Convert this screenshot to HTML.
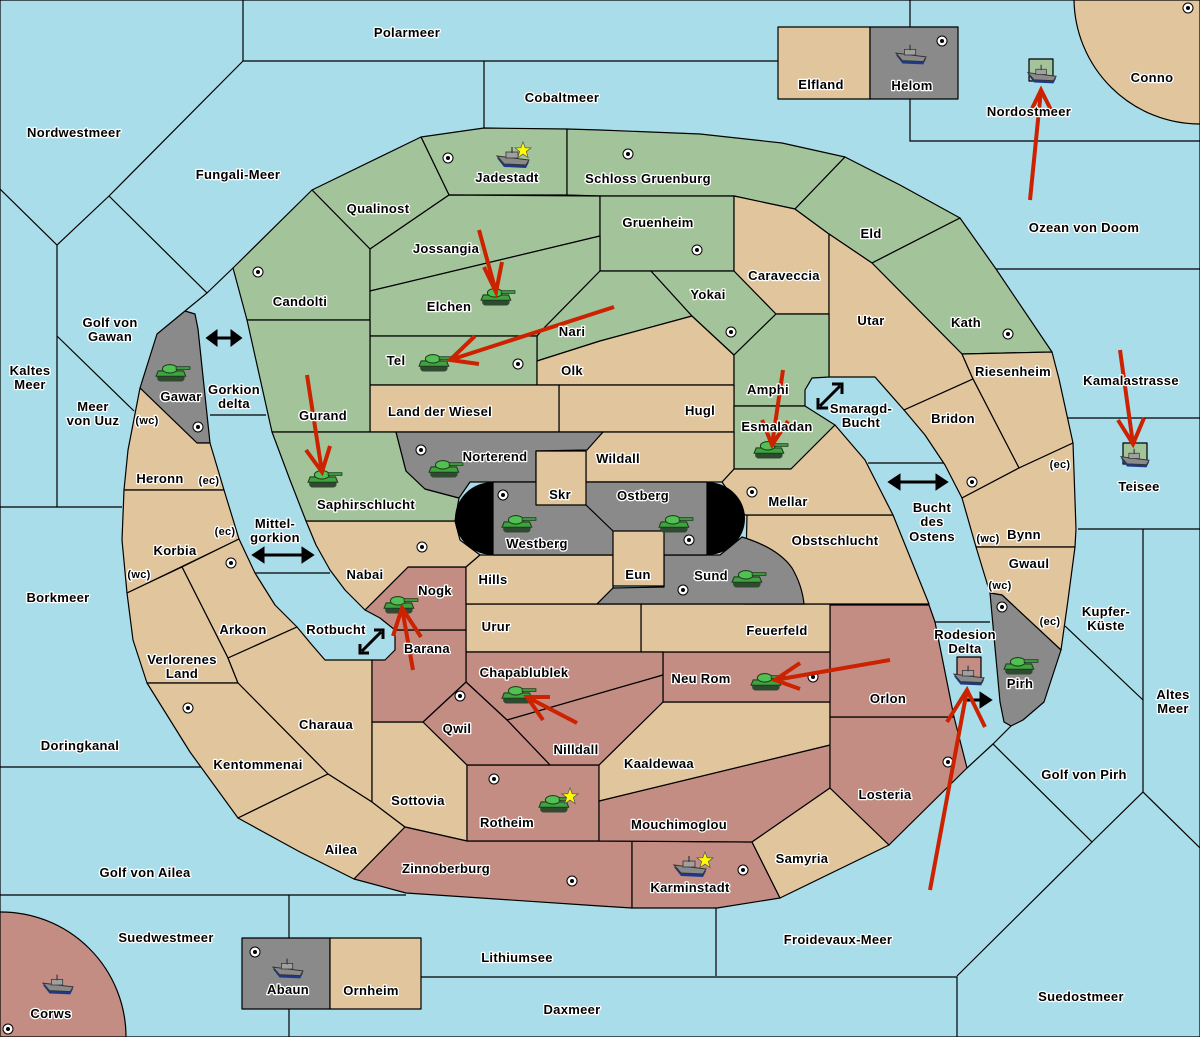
<!DOCTYPE html>
<html><head><meta charset="utf-8"><style>
html,body{margin:0;padding:0;background:#a9dde9;}
svg{display:block}
text{font-family:"Liberation Sans",sans-serif;font-weight:bold;font-size:13px;fill:#000;stroke:#fff;stroke-width:2.6px;paint-order:stroke;stroke-linejoin:round;text-anchor:middle;letter-spacing:0.3px}
.t{fill:#e1c59c}.g{fill:#a3c49a}.r{fill:#c38d84}.k{fill:#8a8a8a}
.reg{stroke:#000;stroke-width:1.2;stroke-linejoin:round}
.sl{stroke:#000;stroke-width:1.2;fill:none}
.ar{stroke:#cc2200;stroke-width:4;fill:none;stroke-linecap:butt}
</style></head><body>
<svg width="1200" height="1037" viewBox="0 0 1200 1037" xmlns="http://www.w3.org/2000/svg">
<defs>
<symbol id="tank" viewBox="0 0 34 20">
<rect x="2" y="12" width="26" height="7" rx="3.5" fill="#2f4a2f"/>
<path d="M3 9 L27 9 L29 14 L1 14 Z" fill="#3fa33f" stroke="#1d3d1d" stroke-width="1"/>
<ellipse cx="14" cy="7" rx="7" ry="4" fill="#52c052" stroke="#1d3d1d" stroke-width="1"/>
<rect x="20" y="5" width="13" height="2.5" fill="#3fa33f" stroke="#1d3d1d" stroke-width="0.8"/>
</symbol>
<symbol id="ship" viewBox="0 0 34 22">
<path d="M1 11 L33 15 L30 21 L8 20 Z" fill="#1d3a8a"/>
<path d="M1 9 L33 13 L30 18 L8 17 Z" fill="#8a8a8a" stroke="#333" stroke-width="1"/>
<rect x="10" y="5" width="12" height="6" fill="#a0a0a0" stroke="#333" stroke-width="0.8"/>
<line x1="16" y1="0" x2="16" y2="6" stroke="#333" stroke-width="1.2"/>
</symbol>
<symbol id="dot" viewBox="0 0 12 12">
<circle cx="6" cy="6" r="5" fill="#fff" stroke="#000" stroke-width="1"/>
<circle cx="6" cy="6" r="2" fill="#000"/>
</symbol>
<symbol id="star" viewBox="0 0 20 20">
<polygon points="10,1 12.4,7.5 19,7.6 13.7,11.7 15.7,18.5 10,14.5 4.3,18.5 6.3,11.7 1,7.6 7.6,7.5" fill="#ffff00" stroke="#555" stroke-width="0.8"/>
</symbol>
</defs>

<rect width="1200" height="1037" fill="#a9dde9"/>

<g class="sl">
<path d="M243,0 V61 H778"/>
<path d="M484,61 V128"/>
<path d="M243,61 L109,196 L57,245 L0,189"/>
<path d="M109,196 L207,293 L185,311"/>
<path d="M207,293 L233,268"/>
<path d="M57,245 V507 H0"/>
<path d="M57,507 H122"/>
<path d="M57,336 L134,411"/>
<path d="M210,415 H266"/>
<path d="M255,573 H330"/>
<path d="M0,767 H203"/>
<path d="M0,895 H406"/>
<path d="M289,895 V938 M289,1009 V1037"/>
<path d="M421,977 H957 V1037"/>
<path d="M716,908 V976"/>
<path d="M957,976 L1092,842 L993,744 L967,768"/>
<path d="M993,744 L1011,726"/>
<path d="M1092,842 L1143,792 L1200,848"/>
<path d="M1143,529 V792"/>
<path d="M1078,529 H1200"/>
<path d="M1065,626 L1143,700"/>
<path d="M935,622 H990"/>
<path d="M868,463 H945"/>
<path d="M910,0 V141 H1200"/>
<path d="M996,269 H1200"/>
<path d="M1068,418 H1200"/>
<path d="M0,0 H1200 V1037 H0 Z"/>
</g>

<path class="reg t" d="M1074,0 A126,126 0 0 0 1200,124 L1200,0 Z"/>
<path class="reg r" d="M0,912 A125,125 0 0 1 126,1037 L0,1037 Z"/>
<rect class="reg t" x="778" y="27" width="92" height="72"/>
<rect class="reg k" x="870" y="27" width="88" height="72"/>
<rect class="reg k" x="242" y="938" width="88" height="71"/>
<rect class="reg t" x="330" y="938" width="91" height="71"/>
<rect class="reg g" x="1029" y="59" width="24" height="22"/>
<rect class="reg g" x="1123" y="443" width="24" height="21"/>
<rect class="reg r" x="957" y="657" width="24" height="21"/>

<g class="reg">
<polygon class="g" points="421,137 484,128 567,129 567,195 449,195"/>
<polygon class="g" points="312,190 421,137 449,195 370,249"/>
<polygon class="g" points="567,129 600,130 700,134 782,143 845,157 795,209 734,196 600,196 567,195"/>
<polygon class="g" points="233,268 312,190 370,249 370,320 247,320"/>
<polygon class="g" points="370,249 449,195 600,196 600,236 370,291"/>
<polygon class="g" points="600,196 734,196 734,271 600,271"/>
<polygon class="g" points="370,291 600,236 600,271 545,327 537,336 370,336"/>
<polygon class="g" points="537,336 545,327 600,271 651,271 692,316 600,341 537,361"/>
<polygon class="g" points="370,336 537,336 537,385 370,385"/>
<polygon class="t" points="537,361 600,341 692,316 734,355 734,385 537,385"/>
<polygon class="g" points="651,271 734,271 776,314 734,355 692,316"/>
<polygon class="t" points="734,196 795,209 829,234 829,314 776,314 734,271"/>
<polygon class="g" points="845,157 900,185 960,218 872,263 829,234 795,209"/>
<polygon class="g" points="872,263 960,218 996,269 1025,312 1052,352 962,354"/>
<polygon class="t" points="829,234 872,263 962,354 973,379 904,410 875,377 829,377"/>
<polygon class="g" points="734,355 776,314 829,314 829,377 812,378 805,390 805,406 734,406"/>
<polygon class="t" points="559,385 734,385 734,432 559,432"/>
<polygon class="t" points="370,385 559,385 559,432 370,432"/>
<polygon class="g" points="247,320 370,320 370,432 272,432"/>
<polygon class="g" points="734,406 805,406 835,425 791,469 734,469"/>
<polygon class="t" points="962,354 1052,352 1059,379 1073,443 1019,468 973,379"/>
<polygon class="t" points="904,410 973,379 1019,468 962,498 945,465 925,435"/>
<polygon class="t" points="962,498 1019,468 1073,443 1076,529 1075,547 976,547"/>
<polygon class="t" points="976,547 1075,547 1068,600 1061,650 1002,595 990,593"/>
<polygon class="k" points="990,593 1002,595 1061,650 1044,702 1023,720 1011,726 1004,722 1000,702"/>
<polygon class="k" points="140,388 157,334 185,311 195,314 198,329 210,443 197,443"/>
<polygon class="t" points="140,388 197,443 210,443 224,490 124,490 128,450"/>
<polygon class="t" points="124,490 224,490 239,539 127,593 122,540"/>
<polygon class="t" points="182,567 239,539 255,573 275,605 297,627 228,658"/>
<polygon class="t" points="127,593 182,567 228,658 238,683 147,683 133,640"/>
<polygon class="t" points="228,658 297,627 312,645 325,660 372,660 372,802 328,774 238,683"/>
<polygon class="t" points="147,683 238,683 328,774 238,818 190,752"/>
<polygon class="t" points="238,818 328,774 372,802 405,827 354,879 300,852"/>
<polygon class="t" points="372,722 423,722 467,765 467,841 405,827 372,802"/>
<polygon class="r" points="405,827 467,841 632,841 632,908 600,906 406,893 354,879"/>
<polygon class="r" points="467,765 599,765 599,841 467,841"/>
<polygon class="r" points="632,841 752,842 780,898 717,908 632,908"/>
<polygon class="r" points="599,801 830,745 830,788 752,842 599,841"/>
<polygon class="t" points="599,765 663,702 830,702 830,745 599,801"/>
<polygon class="t" points="752,842 830,788 889,845 780,898"/>
<polygon class="r" points="830,717 954,717 967,768 889,845 830,788"/>
<polygon class="r" points="830,605 929,605 935,622 954,717 830,717"/>
<polygon class="r" points="663,652 830,652 830,702 663,702"/>
<polygon class="t" points="641,604 830,604 830,652 641,652"/>
<polygon class="t" points="466,604 641,604 641,652 466,652"/>
<polygon class="r" points="466,652 663,652 663,675 507,720 466,682"/>
<polygon class="r" points="507,720 663,675 663,702 599,765 550,765"/>
<polygon class="r" points="466,682 507,720 550,765 467,765 423,722"/>
<polygon class="r" points="395,630 466,630 466,682 423,722 372,722 372,660 385,660 395,650"/>
<polygon class="r" points="408,567 466,567 466,630 395,630 380,618 365,610"/>
<polygon class="t" points="306,521 455,521 460,540 480,555 466,567 408,567 365,610 345,590 330,570 316,545"/>
<polygon class="t" points="480,555 613,555 613,588 597,604 466,604 466,567"/>
<polygon class="g" points="272,432 396,432 406,471 425,489 459,498 455,521 306,521 290,480"/>
<polygon class="t" points="747,515 893,515 929,604 745,604"/>
<polygon class="t" points="722,482 734,469 791,469 835,425 865,460 893,515 745,515"/>
<polygon class="t" points="603,432 734,432 734,469 722,482 586,482 586,450"/>
<path class="k" d="M396,432 L603,432 L587,450 L536,451 L536,482 L470,482 L459,498 L425,489 L406,471 Z"/>
<path class="k" d="M597,604 L613,588 L664,587 L664,555 L720,555 L742,537 Q778,548 792,568 Q802,585 804,604 Z"/>
<rect class="k" x="493" y="482" width="214" height="73"/>
</g>
<path d="M493,482 A38,36.5 0 0 0 493,555 Z" fill="#000"/>
<path d="M707,482 A38,36.5 0 0 1 707,555 Z" fill="#000"/>
<path d="M586,505 L613,531" class="sl"/>
<rect class="reg t" x="536" y="451" width="50" height="54"/>
<rect class="reg t" x="613" y="531" width="51" height="55"/>

<g stroke="#000" stroke-width="3" fill="#000">
<line x1="214" y1="338" x2="234" y2="338"/><polygon points="208,338 216,332 216,344"/><polygon points="240,338 232,332 232,344"/>
<line x1="260" y1="555" x2="306" y2="555"/><polygon points="254,555 263,549 263,561"/><polygon points="312,555 303,549 303,561"/>
<line x1="896" y1="482" x2="940" y2="482"/><polygon points="890,482 899,476 899,488"/><polygon points="946,482 937,476 937,488"/>
<line x1="362" y1="651" x2="381" y2="632"/>
<line x1="820" y1="406" x2="840" y2="386"/>
<line x1="966" y1="700" x2="983" y2="700"/><polygon points="990,700 981,694 981,706"/>
</g>
<g stroke="#000" stroke-width="3" fill="none">
<polyline points="360,644 360,653 369,653"/><polyline points="374,630 383,630 383,639"/>
<polyline points="818,398 818,408 828,408"/><polyline points="832,384 842,384 842,394"/>
</g>

<g>
<use href="#dot" x="442" y="152" width="12" height="12"/>
<use href="#dot" x="622" y="148" width="12" height="12"/>
<use href="#dot" x="691" y="244" width="12" height="12"/>
<use href="#dot" x="252" y="266" width="12" height="12"/>
<use href="#dot" x="512" y="358" width="12" height="12"/>
<use href="#dot" x="725" y="326" width="12" height="12"/>
<use href="#dot" x="1002" y="328" width="12" height="12"/>
<use href="#dot" x="192" y="421" width="12" height="12"/>
<use href="#dot" x="415" y="444" width="12" height="12"/>
<use href="#dot" x="497" y="489" width="12" height="12"/>
<use href="#dot" x="683" y="534" width="12" height="12"/>
<use href="#dot" x="677" y="584" width="12" height="12"/>
<use href="#dot" x="746" y="486" width="12" height="12"/>
<use href="#dot" x="416" y="541" width="12" height="12"/>
<use href="#dot" x="225" y="557" width="12" height="12"/>
<use href="#dot" x="182" y="702" width="12" height="12"/>
<use href="#dot" x="454" y="690" width="12" height="12"/>
<use href="#dot" x="488" y="773" width="12" height="12"/>
<use href="#dot" x="807" y="671" width="12" height="12"/>
<use href="#dot" x="942" y="756" width="12" height="12"/>
<use href="#dot" x="566" y="875" width="12" height="12"/>
<use href="#dot" x="737" y="864" width="12" height="12"/>
<use href="#dot" x="966" y="476" width="12" height="12"/>
<use href="#dot" x="996" y="601" width="12" height="12"/>
<use href="#dot" x="936" y="35" width="12" height="12"/>
<use href="#dot" x="1182" y="2" width="12" height="12"/>
<use href="#dot" x="249" y="946" width="12" height="12"/>
<use href="#dot" x="2" y="1023" width="12" height="12"/>
</g>

<g>
<use href="#ship" x="496" y="146" width="34" height="24"/><use href="#star" x="514" y="141" width="18" height="18"/>
<use href="#tank" x="480" y="285" width="36" height="22"/>
<use href="#tank" x="418" y="351" width="36" height="22"/>
<use href="#tank" x="155" y="361" width="36" height="22"/>
<use href="#tank" x="307" y="467" width="36" height="22"/>
<use href="#tank" x="428" y="457" width="36" height="22"/>
<use href="#tank" x="501" y="512" width="36" height="22"/>
<use href="#tank" x="658" y="512" width="36" height="22"/>
<use href="#tank" x="753" y="438" width="36" height="22"/>
<use href="#tank" x="731" y="567" width="36" height="22"/>
<use href="#tank" x="383" y="593" width="36" height="22"/>
<use href="#tank" x="501" y="683" width="36" height="22"/>
<use href="#tank" x="750" y="670" width="36" height="22"/>
<use href="#tank" x="538" y="792" width="36" height="22"/><use href="#star" x="561" y="787" width="18" height="18"/>
<use href="#tank" x="1003" y="654" width="36" height="22"/>
<use href="#ship" x="673" y="855" width="34" height="24"/><use href="#star" x="696" y="851" width="18" height="18"/>
<use href="#ship" x="953" y="665" width="32" height="22"/>
<use href="#ship" x="1027" y="64" width="30" height="21"/>
<use href="#ship" x="1120" y="448" width="30" height="21"/>
<use href="#ship" x="895" y="44" width="32" height="22"/>
<use href="#ship" x="272" y="958" width="32" height="22"/>
<use href="#ship" x="42" y="974" width="32" height="22"/>
</g>

<g class="ar">
<path d="M1030,200 L1041,90 M1028,117 L1041,90 L1054,116"/>
<path d="M1120,350 L1133,444 M1118,420 L1133,444 L1144,418"/>
<path d="M479,230 L496,292 M484,267 L496,292 L502,262"/>
<path d="M614,307 L450,360 M475,336 L450,360 L479,364"/>
<path d="M307,375 L322,472 M306,450 L322,472 L330,446"/>
<path d="M783,370 L772,445 M762,420 L772,445 L788,421"/>
<path d="M413,670 L402,608 M393,636 L402,608 L421,637"/>
<path d="M577,723 L527,697 M550,697 L527,697 L543,720"/>
<path d="M890,660 L775,680 M800,663 L775,680 L800,689"/>
<path d="M930,890 L967,690 M947,722 L967,690 L985,727"/>
</g>

<g>
<text x="407" y="37">Polarmeer</text>
<text x="562" y="102">Cobaltmeer</text>
<text x="74" y="137">Nordwestmeer</text>
<text x="238" y="179">Fungali-Meer</text>
<text x="821" y="89">Elfland</text>
<text x="912" y="90">Helom</text>
<text x="1152" y="82">Conno</text>
<text x="1029" y="116">Nordostmeer</text>
<text x="1084" y="232">Ozean von Doom</text>
<text x="507" y="182">Jadestadt</text>
<text x="648" y="183">Schloss Gruenburg</text>
<text x="378" y="213">Qualinost</text>
<text x="658" y="227">Gruenheim</text>
<text x="446" y="253">Jossangia</text>
<text x="871" y="238">Eld</text>
<text x="784" y="280">Caraveccia</text>
<text x="708" y="299">Yokai</text>
<text x="300" y="306">Candolti</text>
<text x="449" y="311">Elchen</text>
<text x="572" y="336">Nari</text>
<text x="871" y="325">Utar</text>
<text x="966" y="327">Kath</text>
<text x="110" y="327">Golf von</text>
<text x="110" y="341">Gawan</text>
<text x="30" y="375">Kaltes</text>
<text x="30" y="389">Meer</text>
<text x="396" y="365">Tel</text>
<text x="572" y="375">Olk</text>
<text x="1013" y="376">Riesenheim</text>
<text x="1131" y="385">Kamalastrasse</text>
<text x="768" y="394">Amphi</text>
<text x="181" y="401">Gawar</text>
<text x="234" y="394">Gorkion</text>
<text x="234" y="408">delta</text>
<text x="93" y="411">Meer</text>
<text x="93" y="425">von Uuz</text>
<text x="147" y="424" style="font-size:11px">(wc)</text>
<text x="323" y="420">Gurand</text>
<text x="440" y="416">Land der Wiesel</text>
<text x="700" y="415">Hugl</text>
<text x="861" y="413">Smaragd-</text>
<text x="861" y="427">Bucht</text>
<text x="953" y="423">Bridon</text>
<text x="777" y="431">Esmaladan</text>
<text x="495" y="461">Norterend</text>
<text x="618" y="463">Wildall</text>
<text x="1060" y="468" style="font-size:11px">(ec)</text>
<text x="160" y="483">Heronn</text>
<text x="209" y="484" style="font-size:11px">(ec)</text>
<text x="1139" y="491">Teisee</text>
<text x="560" y="499">Skr</text>
<text x="643" y="500">Ostberg</text>
<text x="788" y="506">Mellar</text>
<text x="366" y="509">Saphirschlucht</text>
<text x="932" y="512">Bucht</text>
<text x="932" y="526">des</text>
<text x="932" y="541">Ostens</text>
<text x="225" y="535" style="font-size:11px">(ec)</text>
<text x="275" y="528">Mittel-</text>
<text x="275" y="542">gorkion</text>
<text x="175" y="555">Korbia</text>
<text x="537" y="548">Westberg</text>
<text x="835" y="545">Obstschlucht</text>
<text x="988" y="542" style="font-size:11px">(wc)</text>
<text x="1024" y="539">Bynn</text>
<text x="1029" y="568">Gwaul</text>
<text x="139" y="578" style="font-size:11px">(wc)</text>
<text x="365" y="579">Nabai</text>
<text x="638" y="579">Eun</text>
<text x="711" y="580">Sund</text>
<text x="493" y="584">Hills</text>
<text x="435" y="595">Nogk</text>
<text x="1000" y="589" style="font-size:11px">(wc)</text>
<text x="58" y="602">Borkmeer</text>
<text x="1106" y="616">Kupfer-</text>
<text x="1106" y="630">Küste</text>
<text x="496" y="631">Urur</text>
<text x="777" y="635">Feuerfeld</text>
<text x="1050" y="625" style="font-size:11px">(ec)</text>
<text x="243" y="634">Arkoon</text>
<text x="336" y="634">Rotbucht</text>
<text x="965" y="639">Rodesion</text>
<text x="965" y="653">Delta</text>
<text x="427" y="653">Barana</text>
<text x="182" y="664">Verlorenes</text>
<text x="182" y="678">Land</text>
<text x="524" y="677">Chapablublek</text>
<text x="701" y="683">Neu Rom</text>
<text x="1020" y="688">Pirh</text>
<text x="888" y="703">Orlon</text>
<text x="1173" y="699">Altes</text>
<text x="1173" y="713">Meer</text>
<text x="457" y="733">Qwil</text>
<text x="326" y="729">Charaua</text>
<text x="80" y="750">Doringkanal</text>
<text x="576" y="754">Nilldall</text>
<text x="659" y="768">Kaaldewaa</text>
<text x="258" y="769">Kentommenai</text>
<text x="1084" y="779">Golf von Pirh</text>
<text x="885" y="799">Losteria</text>
<text x="418" y="805">Sottovia</text>
<text x="507" y="827">Rotheim</text>
<text x="679" y="829">Mouchimoglou</text>
<text x="341" y="854">Ailea</text>
<text x="802" y="863">Samyria</text>
<text x="446" y="873">Zinnoberburg</text>
<text x="145" y="877">Golf von Ailea</text>
<text x="690" y="892">Karminstadt</text>
<text x="166" y="942">Suedwestmeer</text>
<text x="838" y="944">Froidevaux-Meer</text>
<text x="517" y="962">Lithiumsee</text>
<text x="288" y="994">Abaun</text>
<text x="371" y="995">Ornheim</text>
<text x="1081" y="1001">Suedostmeer</text>
<text x="572" y="1014">Daxmeer</text>
<text x="51" y="1018">Corws</text>
</g>
</svg>
</body></html>
